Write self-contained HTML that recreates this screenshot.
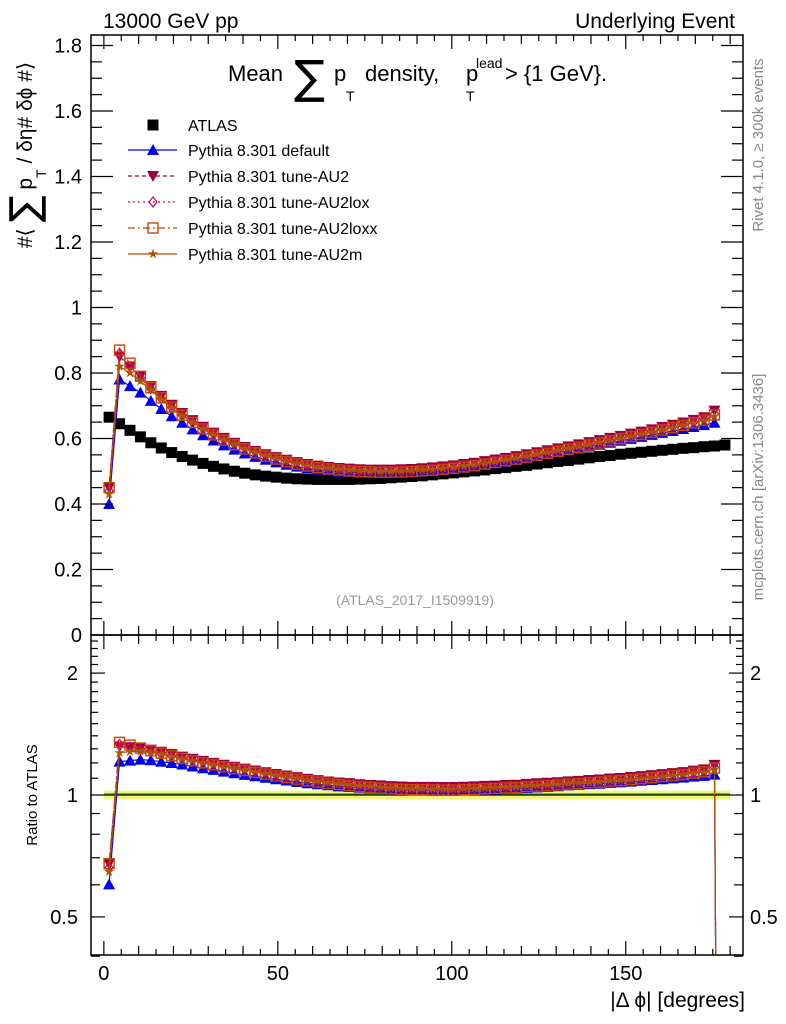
<!DOCTYPE html>
<html><head><meta charset="utf-8">
<style>
html,body{margin:0;padding:0;background:#fff;overflow:hidden;width:786px;height:1024px;}
svg{display:block;font-family:"Liberation Sans",sans-serif;}
</style></head>
<body>
<svg id="chart" width="786" height="1024" viewBox="0 0 786 1024" xmlns="http://www.w3.org/2000/svg">
<rect width="786" height="1024" fill="#fff"/>
<text x="103" y="28" font-size="21">13000 GeV pp</text>
<text x="735" y="28" font-size="21" text-anchor="end">Underlying Event</text>
<g font-size="22">
<text x="228" y="81">Mean</text>
<text x="294" y="93" font-size="46" font-family="DejaVu Sans, sans-serif">∑</text>
<text x="334" y="81">p</text>
<text x="346" y="101" font-size="14">T</text>
<text x="365" y="81">density,</text>
<text x="466" y="81">p</text>
<text x="466" y="101" font-size="14">T</text>
<text x="476" y="68" font-size="14">lead</text>
<text x="505" y="81">&gt; {1 GeV}.</text>
</g>
<g transform="translate(32,155) rotate(-90)" font-size="21">
<text x="0" y="0" text-anchor="middle">#⟨ <tspan font-size="40" font-family="DejaVu Sans, sans-serif" dy="6">∑</tspan><tspan dy="-6"> p</tspan><tspan font-size="14" dy="14">T</tspan><tspan dy="-14"> / δη# δϕ #⟩</tspan></text>
</g>
<text transform="translate(763,145) rotate(-90)" text-anchor="middle" font-size="15" fill="#888">Rivet 4.1.0, ≥ 300k events</text>
<text transform="translate(763,487) rotate(-90)" text-anchor="middle" font-size="15" fill="#888">mcplots.cern.ch [arXiv:1306.3436]</text>
<text x="415" y="605" text-anchor="middle" font-size="14" fill="#999">(ATLAS_2017_I1509919)</text>
<text transform="translate(37,795) rotate(-90)" text-anchor="middle" font-size="15">Ratio to ATLAS</text>
<text x="745" y="1007" text-anchor="end" font-size="21">|Δ ϕ| [degrees]</text>
<defs>
<clipPath id="cm"><rect x="91" y="35" width="652" height="600"/></clipPath>
<clipPath id="cr"><rect x="91" y="635" width="652" height="320"/></clipPath>
</defs>
<g id="main" clip-path="url(#cm)"></g>
<g id="ratio" clip-path="url(#cr)"></g>
<g id="axes"></g>
<g id="legend"></g>
</svg>
<script>
const xCenters=[1.5,4.5,7.5,10.5,13.5,16.5,19.5,22.5,25.5,28.5,31.5,34.5,37.5,40.5,43.5,46.5,49.5,52.5,55.5,58.5,61.5,64.5,67.5,70.5,73.5,76.5,79.5,82.5,85.5,88.5,91.5,94.5,97.5,100.5,103.5,106.5,109.5,112.5,115.5,118.5,121.5,124.5,127.5,130.5,133.5,136.5,139.5,142.5,145.5,148.5,151.5,154.5,157.5,160.5,163.5,166.5,169.5,172.5,175.5,178.5];
const atlas=[0.665,0.645,0.625,0.605,0.587,0.571,0.557,0.545,0.534,0.524,0.515,0.507,0.500,0.494,0.489,0.485,0.482,0.479,0.477,0.476,0.475,0.475,0.475,0.475,0.476,0.477,0.478,0.480,0.482,0.484,0.486,0.489,0.492,0.495,0.498,0.501,0.504,0.508,0.511,0.515,0.518,0.522,0.526,0.530,0.533,0.537,0.541,0.545,0.548,0.552,0.555,0.558,0.561,0.564,0.567,0.570,0.572,0.575,0.577,0.580];
const pyDefault=[0.40,0.78,0.76,0.74,0.715,0.69,0.668,0.648,0.628,0.61,0.594,0.579,0.566,0.554,0.544,0.535,0.527,0.52,0.514,0.509,0.505,0.502,0.499,0.497,0.496,0.495,0.495,0.495,0.496,0.497,0.499,0.501,0.504,0.507,0.511,0.515,0.519,0.524,0.529,0.534,0.539,0.545,0.551,0.557,0.563,0.569,0.575,0.581,0.587,0.593,0.599,0.605,0.611,0.617,0.623,0.629,0.635,0.641,0.648,0];
const pyAU2=[0.45,0.85,0.82,0.79,0.76,0.73,0.703,0.678,0.656,0.636,0.618,0.602,0.587,0.574,0.562,0.552,0.543,0.535,0.528,0.522,0.517,0.513,0.51,0.508,0.506,0.505,0.505,0.505,0.506,0.507,0.509,0.512,0.515,0.518,0.522,0.526,0.531,0.536,0.541,0.546,0.552,0.558,0.564,0.57,0.576,0.582,0.589,0.595,0.602,0.608,0.615,0.621,0.628,0.635,0.642,0.649,0.657,0.665,0.685,0];
const pyAU2lox=[0.44,0.86,0.82,0.785,0.752,0.722,0.695,0.671,0.65,0.631,0.614,0.598,0.584,0.571,0.56,0.549,0.54,0.532,0.525,0.519,0.514,0.51,0.506,0.503,0.501,0.5,0.499,0.499,0.5,0.501,0.503,0.505,0.508,0.511,0.515,0.519,0.524,0.529,0.534,0.539,0.545,0.551,0.557,0.563,0.569,0.575,0.582,0.588,0.595,0.601,0.608,0.614,0.621,0.628,0.635,0.642,0.65,0.658,0.675,0];
const pyAU2loxx=[0.45,0.87,0.83,0.79,0.755,0.724,0.696,0.671,0.649,0.629,0.611,0.595,0.581,0.568,0.556,0.546,0.537,0.529,0.522,0.516,0.511,0.507,0.504,0.501,0.499,0.498,0.497,0.497,0.498,0.499,0.501,0.503,0.506,0.509,0.513,0.517,0.522,0.527,0.532,0.537,0.543,0.549,0.555,0.561,0.567,0.573,0.58,0.586,0.593,0.599,0.606,0.612,0.619,0.626,0.633,0.64,0.648,0.656,0.672,0];
const pyAU2m=[0.43,0.82,0.8,0.775,0.748,0.72,0.694,0.67,0.649,0.63,0.613,0.597,0.583,0.57,0.559,0.549,0.54,0.532,0.525,0.519,0.514,0.51,0.507,0.504,0.502,0.501,0.5,0.5,0.501,0.502,0.504,0.506,0.509,0.512,0.516,0.52,0.525,0.53,0.535,0.54,0.546,0.552,0.558,0.564,0.57,0.576,0.582,0.588,0.595,0.601,0.607,0.614,0.62,0.627,0.634,0.641,0.648,0.656,0.668,0];
const seriesNames=["Pythia 8.301 default","Pythia 8.301 tune-AU2","Pythia 8.301 tune-AU2lox","Pythia 8.301 tune-AU2loxx","Pythia 8.301 tune-AU2m"];
const xTicks=[0,50,100,150];
const yTicks=[0,0.2,0.4,0.6,0.8,1,1.2,1.4,1.6,1.8];
const rTicks=[0.5,1,2];

const NS="http://www.w3.org/2000/svg";
const X0=91,X1=743,XMIN=-3.7,XMAX=183.7;
const sx=v=>X0+(v-XMIN)/(XMAX-XMIN)*(X1-X0);
const MY0=635,MY1=35,MYMAX=1.832;
const sy=v=>MY0-v/MYMAX*(MY0-MY1);
const RY1=795,RPD=405;
const sr=v=>RY1-Math.log10(Math.max(v,1e-4))*RPD;
function el(tag,attrs,parent){const e=document.createElementNS(NS,tag);for(const k in attrs)e.setAttribute(k,attrs[k]);parent.appendChild(e);return e;}
const main=document.getElementById('main'),ratio=document.getElementById('ratio'),axes=document.getElementById('axes'),legend=document.getElementById('legend');

const styles=[
 {c:"#0000ee",dash:"",m:"tri",name:"default"},
 {c:"#990044",dash:"4,3",m:"itri",name:"au2"},
 {c:"#cc0066",dash:"2,3",m:"diamond",name:"au2lox"},
 {c:"#cc4400",dash:"7,3,2,3",m:"osq",name:"au2loxx"},
 {c:"#aa5500",dash:"",m:"star",name:"au2m"}];
const mcData=[pyDefault,pyAU2,pyAU2lox,pyAU2loxx,pyAU2m];

function marker(g,type,x,y,c){
 let e;
 if(type==="sq"){e=el('rect',{x:x-5.5,y:y-5.5,width:11,height:11,fill:'#000'},g);}
 else if(type==="tri"){e=el('polygon',{points:`${x},${y-6} ${x-6},${y+5} ${x+6},${y+5}`,fill:c},g);}
 else if(type==="itri"){e=el('polygon',{points:`${x},${y+6} ${x-6},${y-5} ${x+6},${y-5}`,fill:c},g);}
 else if(type==="diamond"){e=el('polygon',{points:`${x},${y-5} ${x+4},${y} ${x},${y+5} ${x-4},${y}`,fill:'none',stroke:c,'stroke-width':1.2},g);}
 else if(type==="osq"){e=el('rect',{x:x-5,y:y-5,width:10,height:10,fill:'none',stroke:c,'stroke-width':1.4},g);}
 else {let p=[];for(let i=0;i<10;i++){const r=i%2?2:5.5,a=-Math.PI/2+i*Math.PI/5;p.push((x+r*Math.cos(a)).toFixed(1)+','+(y+r*Math.sin(a)).toFixed(1));}
  e=el('polygon',{points:p.join(' '),fill:c},g);}
 return e;
}

const ga=el('g',{},main);


atlas.forEach((v,i)=>{const m=marker(ga,'sq',sx(xCenters[i]),sy(v));
 
 });

const band=el('rect',{x:sx(1.5)-5,y:sr(1.025),width:sx(178.5)-sx(1.5)+10,height:sr(0.975)-sr(1.025),fill:'#f5f57a'},ratio);


el('line',{x1:sx(1.5)-5,x2:sx(178.5)+5,y1:sr(1)-1.2,y2:sr(1)-1.2,stroke:'#4c4',"stroke-width":1.5},ratio);
const one=el('line',{x1:sx(1.5)-5,x2:sx(178.5)+5,y1:sr(1),y2:sr(1),stroke:'#000',"stroke-width":1.2},ratio);



mcData.forEach((d,s)=>{
 const st=styles[s];
 const g=el('g',{},main);
 
 
 let pts=[];d.forEach((v,i)=>{if(v>0)pts.push(sx(xCenters[i]).toFixed(1)+','+sy(v).toFixed(1));});
 el('polyline',{points:pts.join(' '),fill:'none',stroke:st.c,'stroke-width':1.2,'stroke-dasharray':st.dash},g);
 d.forEach((v,i)=>{if(v>0){const m=marker(g,st.m,sx(xCenters[i]),sy(v),st.c);
  
  }});
 const rg=el('g',{},ratio);
 
 
 let rp=d.map((v,i)=>sx(xCenters[i]).toFixed(1)+','+sr(v/atlas[i]).toFixed(1));
 el('polyline',{points:rp.join(' '),fill:'none',stroke:st.c,'stroke-width':1.2,'stroke-dasharray':st.dash},rg);
 d.forEach((v,i)=>{if(v>0){const m=marker(rg,st.m,sx(xCenters[i]),sr(v/atlas[i]),st.c);
  
  }});
});

[[35,635],[635,955]].forEach(([t,b],k)=>{
 const f=el('rect',{x:X0,y:t,width:X1-X0,height:b-t,fill:'none',stroke:'#000','stroke-width':1.5},axes);
 
 
 for(let v=0;v<=180;v+=5){const x=sx(v);const L=v%50===0?14:(v%10===0?9:6);
  el('line',{x1:x,x2:x,y1:b,y2:b-L,stroke:'#000','stroke-width':1.2},axes);
  el('line',{x1:x,x2:x,y1:t,y2:t+L,stroke:'#000','stroke-width':1.2},axes);}
});
xTicks.forEach(v=>{const t=el('text',{x:sx(v),y:980,'text-anchor':'middle','font-size':20},axes);t.textContent=v;
 
 });
for(let i=0;i<=36;i++){const v=i*0.05;const y=sy(v);if(y<35)continue;const L=i%4===0?22:11;
 el('line',{x1:X0,x2:X0+L,y1:y,y2:y,stroke:'#000','stroke-width':1.2},axes);
 el('line',{x1:X1,x2:X1-L,y1:y,y2:y,stroke:'#000','stroke-width':1.2},axes);}
yTicks.forEach(v=>{const t=el('text',{x:82,y:sy(v)+7,'text-anchor':'end','font-size':20},axes);t.textContent=v;
 
 });
[0.4,0.5,0.6,0.7,0.8,0.9,1,2].forEach(v=>{const y=sr(v);const L=(v===0.5||v===1||v===2)?14:9;
 el('line',{x1:X0,x2:X0+L,y1:y,y2:y,stroke:'#000','stroke-width':1.2},axes);
 el('line',{x1:X1,x2:X1-L,y1:y,y2:y,stroke:'#000','stroke-width':1.2},axes);});
[1.1,1.2,1.3,1.4,1.5,1.6,1.7,1.8,1.9,2.1,2.2,2.3,2.4].forEach(v=>{const y=sr(v);
 el('line',{x1:X0,x2:X0+7,y1:y,y2:y,stroke:'#000','stroke-width':1.2},axes);
 el('line',{x1:X1,x2:X1-7,y1:y,y2:y,stroke:'#000','stroke-width':1.2},axes);});
rTicks.forEach(v=>{const y=sr(v)+7;
 const a=el('text',{x:78,y:y,'text-anchor':'end','font-size':20},axes);a.textContent=v;
 
 
 const b=el('text',{x:750,y:y,'font-size':20},axes);b.textContent=v;
 
 });

const ly=[125,150,176,202,228,254];
const le0=el('g',{},legend);


marker(le0,'sq',153,ly[0]);
const t0=el('text',{x:188,y:ly[0]+6,'font-size':16},le0);t0.textContent="ATLAS";
styles.forEach((st,s)=>{const g=el('g',{},legend);
 
 
 el('line',{x1:128,x2:177,y1:ly[s+1],y2:ly[s+1],stroke:st.c,'stroke-width':1.2,'stroke-dasharray':st.dash},g);
 marker(g,st.m,153,ly[s+1],st.c);
 const t=el('text',{x:188,y:ly[s+1]+6,'font-size':16},g);t.textContent=seriesNames[s];});
</script>
</body></html>
